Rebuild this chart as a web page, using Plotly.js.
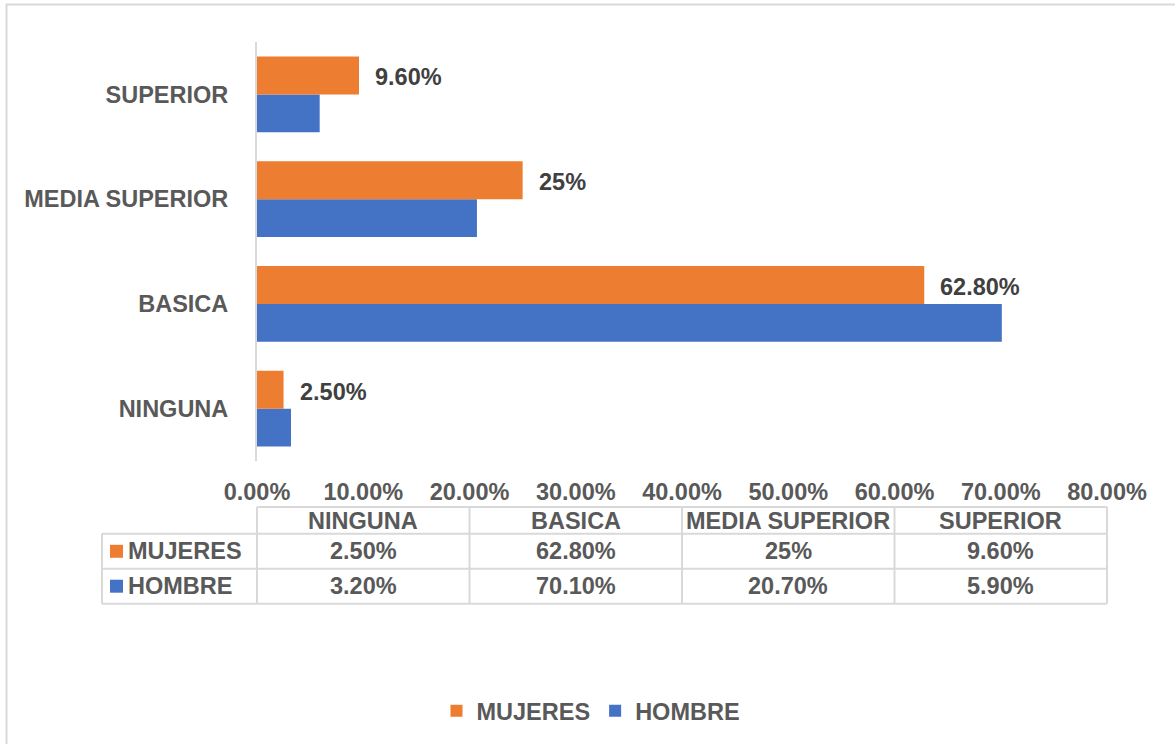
<!DOCTYPE html>
<html>
<head>
<meta charset="utf-8">
<script src="https://cdn.plot.ly/plotly-3.0.1.min.js"></script>
<style>
  html, body { margin: 0; padding: 0; background: #fff; }
  #chart { width: 1175px; height: 744px; }
</style>
</head>
<body>
<div id="chart"></div>
<script>
// data (percent units)
var categories = ['NINGUNA', 'BASICA', 'MEDIA SUPERIOR', 'SUPERIOR'];
var mujeres = [2.5, 62.8, 25, 9.6];
var hombre = [3.2, 70.1, 20.7, 5.9];
var mujeresLabels = ['2.50%', '62.80%', '25%', '9.60%'];
var hombreLabels = ['3.20%', '70.10%', '20.70%', '5.90%'];
var seriesNames = ['MUJERES', 'HOMBRE'];
var seriesColors = ['#ED7D31', '#4472C4'];
var xMax = 80;

var textColor = '#595959';
var labelColor = '#404040';
var lineColor = '#d9d9d9';
var fontFamily = '"Liberation Sans", Arial, sans-serif';
var fontSize = 23.5;

// plot area in pixels
var W = 1175, H = 744;
var plotL = 257, plotR = 1107, plotT = 42, plotB = 462;
function px(v) { return (v - plotL) / (plotR - plotL); }
function py(v) { return (plotB - v) / (plotB - plotT); }

var traces = [
  {
    type: 'bar', orientation: 'h',
    name: seriesNames[1],
    x: hombre, y: categories,
    marker: { color: seriesColors[1] },
    hoverinfo: 'skip'
  },
  {
    type: 'bar', orientation: 'h',
    name: seriesNames[0],
    x: mujeres, y: categories,
    marker: { color: seriesColors[0] },
    hoverinfo: 'skip'
  }
];

var font = { family: fontFamily, size: fontSize, color: textColor, weight: 700 };

var annotations = [];
var shapes = [];

// data labels on the MUJERES bars
for (var i = 0; i < categories.length; i++) {
  annotations.push({
    xref: 'x', yref: 'y',
    x: mujeres[i], y: categories[i],
    text: mujeresLabels[i],
    showarrow: false,
    xanchor: 'left', yanchor: 'middle',
    xshift: 14, yshift: 17,
    font: { family: fontFamily, size: fontSize, color: labelColor, weight: 700 }
  });
}

// data table under the axis
var tableTop = 508, headRow = 535, row1 = 570, row2 = 605, keyLeft = 102;
function hline(yPix, x0) {
  shapes.push({ type: 'line', xref: 'paper', yref: 'paper',
    x0: x0, x1: 1, y0: py(yPix), y1: py(yPix),
    line: { color: lineColor, width: 2 } });
}
function vline(xPaper, y0, y1) {
  shapes.push({ type: 'line', xref: 'paper', yref: 'paper',
    x0: xPaper, x1: xPaper, y0: py(y0), y1: py(y1),
    line: { color: lineColor, width: 2 } });
}
hline(tableTop, 0);
hline(headRow, px(keyLeft));
hline(row1, px(keyLeft));
hline(row2, px(keyLeft));
vline(px(keyLeft), headRow, row2);

var colW = xMax / categories.length;
for (var c = 0; c <= categories.length; c++) {
  vline(c * colW / xMax, tableTop, row2);
}

var rowMids = [(headRow + row1) / 2, (row1 + row2) / 2];
var rowLabels = [mujeresLabels, hombreLabels];
for (var c = 0; c < categories.length; c++) {
  var cx = (c + 0.5) * colW / xMax;
  annotations.push({ xref: 'paper', yref: 'paper', x: cx, y: py((tableTop + headRow) / 2 + 1),
    text: categories[c], showarrow: false, xanchor: 'center', yanchor: 'middle', font: font });
  for (var r = 0; r < 2; r++) {
    annotations.push({ xref: 'paper', yref: 'paper', x: cx, y: py(rowMids[r]),
      text: rowLabels[r][c], showarrow: false, xanchor: 'center', yanchor: 'middle', font: font });
  }
}
for (var r = 0; r < 2; r++) {
  shapes.push({ type: 'rect', xref: 'paper', yref: 'paper',
    x0: px(110), x1: px(123), y0: py(rowMids[r] - 6.5), y1: py(rowMids[r] + 6.5),
    fillcolor: seriesColors[r], line: { width: 0 } });
  annotations.push({ xref: 'paper', yref: 'paper', x: px(126), y: py(rowMids[r]),
    text: seriesNames[r], showarrow: false, xanchor: 'left', yanchor: 'middle', font: font });
}

// outer frame of the chart
shapes.push({ type: 'rect', xref: 'paper', yref: 'paper',
  x0: px(6.5), x1: px(1190), y0: py(4.5), y1: py(760),
  line: { color: lineColor, width: 2 }, fillcolor: 'rgba(0,0,0,0)' });

var layout = {
  width: W, height: H,
  margin: { l: plotL, r: W - plotR, t: plotT, b: H - plotB, pad: 0 },
  paper_bgcolor: '#ffffff',
  plot_bgcolor: '#ffffff',
  barmode: 'group',
  bargap: 0.276,
  bargroupgap: 0,
  font: font,
  xaxis: {
    range: [0, xMax],
    dtick: 10,
    tickformat: '.2f',
    ticksuffix: '%',
    showgrid: false,
    zeroline: false,
    showline: false,
    ticks: 'outside', ticklen: 10, tickcolor: 'rgba(0,0,0,0)',
    tickfont: font,
    fixedrange: true
  },
  yaxis: {
    type: 'category',
    categoryorder: 'array',
    categoryarray: categories,
    showgrid: false,
    zeroline: false,
    showline: true, linecolor: lineColor, linewidth: 2,
    ticks: 'outside', ticklen: 22, tickcolor: 'rgba(0,0,0,0)',
    tickfont: font,
    fixedrange: true
  },
  showlegend: true,
  legend: {
    orientation: 'h',
    traceorder: 'reversed',
    x: px(591), xanchor: 'center',
    y: py(711), yanchor: 'middle',
    font: font,
    bgcolor: 'rgba(0,0,0,0)'
  },
  annotations: annotations,
  shapes: shapes
};

Plotly.newPlot('chart', traces, layout, { displayModeBar: false, staticPlot: true });
</script>
</body>
</html>
